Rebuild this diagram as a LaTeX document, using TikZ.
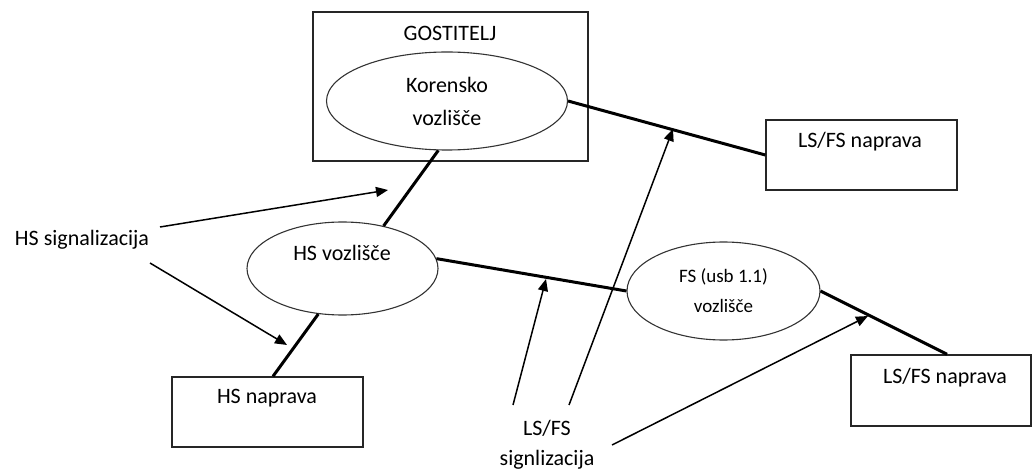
\documentclass[tikz,border=0pt]{standalone}
\usepackage{fontspec}
\setmainfont{Carlito}
\usetikzlibrary{shapes.geometric,arrows.meta,calc}
\begin{document}
\begin{tikzpicture}[x=0.5pt,y=-0.5pt,
  box/.style={draw=black!85,line width=0.7pt,rectangle,inner sep=0pt},
  hub/.style={draw=black!80,line width=0.55pt,ellipse,inner sep=0pt,align=center,
              font=\fontsize{11}{16.5}\selectfont},
  lbl/.style={inner sep=0pt,align=center,font=\fontsize{11}{15}\selectfont},
  bus/.style={line width=1.5pt},
  sig/.style={line width=0.75pt,-{Triangle[length=6pt,width=5pt]}}]
\useasboundingbox (0,0) rectangle (1033,470);

% host with its root hub
\node[box,minimum width=137.5pt,minimum height=74.5pt] (host) at (450.5,86.5) {};
\node[lbl] (hostT) at (450,33) {GOSTITELJ};
\node[hub,minimum width=120.5pt,minimum height=49pt] (root) at (447,101) {Korensko\\vozlišče};

% hubs
\node[hub,minimum width=95.5pt,minimum height=46.5pt] (hsv) at (342.5,268.5) {};
\node[lbl] (hsvT) at (342,253) {HS vozlišče};
\node[hub,minimum width=96.5pt,minimum height=49pt,font=\fontsize{9.5}{15}\selectfont]
  (fsv) at (723.5,291) {FS (usb 1.1)\\vozlišče};

% devices
\node[box,minimum width=95.5pt,minimum height=35pt] (hsn) at (267.5,412) {};
\node[lbl] (hsnT) at (267,398) {HS naprava};
\node[box,minimum width=95.5pt,minimum height=35pt] (lsu) at (861.5,155) {};
\node[lbl] (lsuT) at (860,142) {LS/FS naprava};
\node[box,minimum width=90pt,minimum height=35.5pt] (lsl) at (941,390.5) {};
\node[lbl] (lslT) at (945,378) {LS/FS naprava};

% signalling labels
\node[lbl] (hss) at (82,240) {HS signalizacija};
\node[lbl] (lsf) at (547,445) {LS/FS\\signlizacija};

% bus links
\draw[bus] (root.east) -- (lsu.west);
\draw[bus] (root.-100) -- (hsv.46);
\draw[bus] (hsv.-118) -- ($(hsn.north)+(5.5,0)$);
\draw[bus] (hsv.6) -- (fsv.west);
\draw[bus] (fsv.east) -- ($(lsl.north)+(6,0)$);

% signalling arrows
\coordinate (t1) at (388,190);
\coordinate (t2) at (287,345);
\coordinate (t3) at (546,279);
\coordinate (t4) at (673,129);
\coordinate (t5) at (868,316);
\draw[sig] ($(hss.center)+(78,-13)$) -- (t1);
\draw[sig] ($(hss.center)+(68,23)$) -- (t2);
\draw[sig] ($(lsf.center)+(-34,-40)$) -- (t3);
\draw[sig] ($(lsf.center)+(22,-40)$) -- (t4);
\draw[sig] ($(lsf.center)+(65,0)$) -- (t5);
\end{tikzpicture}
\end{document}
